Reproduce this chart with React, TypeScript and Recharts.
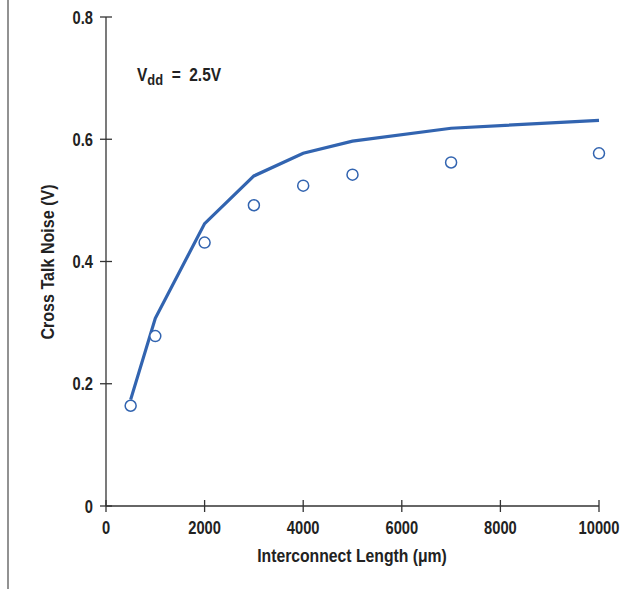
import React from 'react';
import { ComposedChart, Line, Scatter, XAxis, YAxis } from 'recharts';

const lengths = [500, 1000, 2000, 3000, 4000, 5000, 7000, 10000];
const modelNoise = [0.174, 0.307, 0.462, 0.54, 0.577, 0.597, 0.618, 0.631];
const measuredNoise = [0.164, 0.278, 0.431, 0.492, 0.524, 0.542, 0.562, 0.577];
const xTicks = [0, 2000, 4000, 6000, 8000, 10000];
const yTicks = [0, 0.2, 0.4, 0.6, 0.8];

const modelData = lengths.map((x, i) => ({ x, y: modelNoise[i] }));
const measuredData = lengths.map((x, i) => ({ x, y: measuredNoise[i] }));

const FONT = '"Liberation Sans", Arial, sans-serif';
const BLUE = '#3264b0';
const AXIS = '#333';

const NText = (props: any) => {
  const { x, y, anchor = 'start', size = 17.5, sx = 0.84, rotate = 0, children } = props;
  return (
    <text
      x={0}
      y={0}
      transform={`translate(${x} ${y}) rotate(${rotate}) scale(${sx} 1)`}
      textAnchor={anchor}
      fontFamily={FONT}
      fontWeight="bold"
      fontSize={size}
      fill="#222"
    >
      {children}
    </text>
  );
};

const YTick = (props: any) => {
  const { x, y, payload } = props;
  const ax = x + 13;
  return (
    <g>
      <line x1={ax - 6} x2={ax + 6} y1={y} y2={y} stroke={AXIS} strokeWidth={1.3} />
      <NText x={x} y={y + 6.5} anchor="end">
        {String(payload.value)}
      </NText>
    </g>
  );
};

const XTick = (props: any) => {
  const { x, y, payload } = props;
  const ay = y - 13;
  return (
    <g>
      <line x1={x} x2={x} y1={ay - 6} y2={ay + 6} stroke={AXIS} strokeWidth={1.3} />
      <NText x={x} y={ay + 28} anchor="middle">
        {String(payload.value)}
      </NText>
    </g>
  );
};

const Circle = (props: any) => {
  const { cx, cy } = props;
  return <circle cx={cx} cy={cy} r={5.5} fill="#fff" stroke={BLUE} strokeWidth={1.5} />;
};

export default function App() {
  return (
    <div style={{ position: 'absolute', left: 0, top: 0, width: 643, height: 589, background: '#fff' }}>
      <ComposedChart
        width={643}
        height={589}
        margin={{ top: 17, right: 44, bottom: 63, left: 93 }}
      >
        <XAxis
          type="number"
          dataKey="x"
          domain={[0, 10000]}
          ticks={xTicks}
          height={20}
          tickSize={6}
          tickMargin={7}
          tickLine={false}
          tick={<XTick />}
          axisLine={{ stroke: AXIS, strokeWidth: 1.3 }}
        />
        <YAxis
          type="number"
          dataKey="y"
          domain={[0, 0.8]}
          ticks={yTicks}
          width={13}
          tickSize={6}
          tickMargin={7}
          tickLine={false}
          tick={<YTick />}
          axisLine={{ stroke: AXIS, strokeWidth: 1.3 }}
        />
        <Line
          data={modelData}
          dataKey="y"
          type="linear"
          stroke={BLUE}
          strokeWidth={3.2}
          dot={false}
          activeDot={false}
          isAnimationActive={false}
        />
        <Scatter data={measuredData} dataKey="y" shape={<Circle />} isAnimationActive={false} />
        <line x1={8} x2={8} y1={0} y2={589} stroke="#777" strokeWidth={1.6} />
        <text
          x={0}
          y={0}
          transform="translate(137 81) scale(0.86 1)"
          fontFamily={FONT}
          fontWeight="bold"
          fontSize={18}
          fill="#222"
        >
          V
          <tspan dy={4} fontSize={15}>dd</tspan>
          <tspan dy={-4} fontSize={18}>{'\u00a0\u00a0=\u00a0\u00a02.5V'}</tspan>
        </text>
        <NText x={352} y={562} anchor="middle" sx={0.9}>
          Interconnect Length (μm)
        </NText>
        <NText x={54} y={262} anchor="middle" sx={0.92} rotate={-90}>
          Cross Talk Noise (V)
        </NText>
      </ComposedChart>
    </div>
  );
}
